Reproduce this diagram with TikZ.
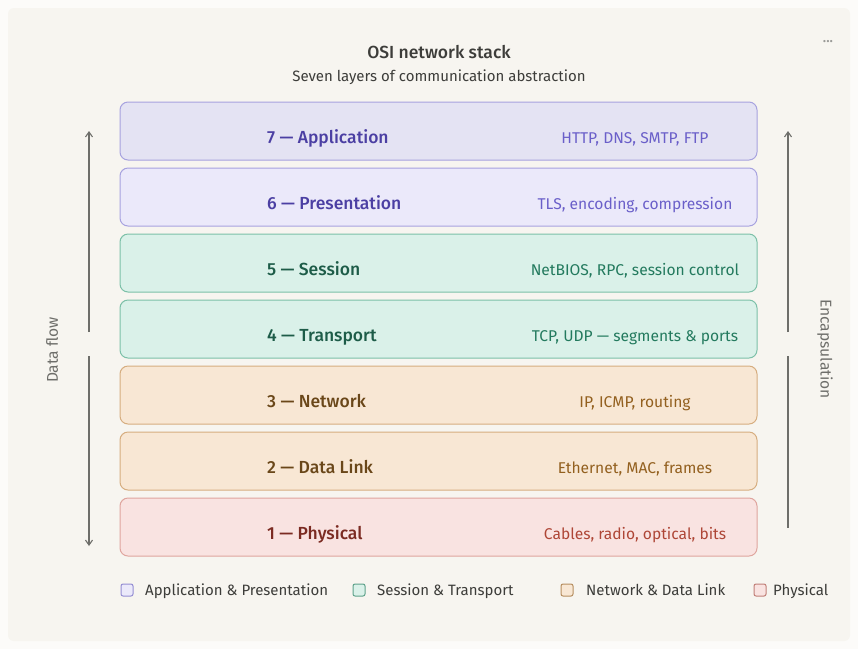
\documentclass[tikz,border=0pt]{standalone}
\usepackage{fontspec}
\setmainfont{Fira Sans}[BoldFont={Fira Sans Medium}]
\usetikzlibrary{arrows.meta}

% colours of the four layer groups
\definecolor{paper}{HTML}{F7F5F0}
\definecolor{inkgray}{HTML}{3D3D3A}
\definecolor{linegray}{HTML}{6E6E6A}
\definecolor{appfill}{HTML}{E4E3F3}
\definecolor{presfill}{HTML}{EBE9FA}
\definecolor{appline}{HTML}{A7A2DF}
\definecolor{appdark}{HTML}{4B3FA3}
\definecolor{applight}{HTML}{6A5FC9}
\definecolor{sessfill}{HTML}{DAF1E9}
\definecolor{sessline}{HTML}{7CC0A8}
\definecolor{sessdark}{HTML}{1D5C48}
\definecolor{sesslight}{HTML}{237A5E}
\definecolor{netfill}{HTML}{F8E7D4}
\definecolor{netline}{HTML}{D6AD7F}
\definecolor{netdark}{HTML}{6A4719}
\definecolor{netlight}{HTML}{93601F}
\definecolor{physfill}{HTML}{F9E3E1}
\definecolor{physline}{HTML}{DFA59E}
\definecolor{physdark}{HTML}{7B2B22}
\definecolor{physlight}{HTML}{AE4636}

\tikzset{
  layer/.style={draw, line width=1pt, rounded corners=8pt, minimum width=637pt, minimum height=58pt, inner sep=0pt},
  layername/.style={anchor=base west, inner sep=0pt, font=\fontsize{17.5}{20}\selectfont\bfseries},
  layerinfo/.style={anchor=base, inner sep=0pt, font=\fontsize{15.6}{18}\selectfont},
  keybox/.style={draw, line width=1pt, rounded corners=2pt, minimum size=12pt, inner sep=0pt},
  keytext/.style={anchor=base west, inner sep=0pt, text=inkgray, font=\fontsize{15}{17}\selectfont},
  flow/.style={draw=linegray, line width=1.1pt},
  sidelabel/.style={text=linegray, font=\fontsize{15.6}{18}\selectfont}
}

\begin{document}
\begin{tikzpicture}[x=1pt, y=-1pt]
    % background
    \useasboundingbox (0,0) rectangle (858,649);
    \fill[white!60!paper] (0,0) rectangle (858,649);
    \fill[paper, rounded corners=6pt] (8,8) rectangle (850,641);

    % title
    \node[text=inkgray, font=\fontsize{17.5}{20}\selectfont\bfseries] (title) at (439,52) {OSI network stack};
    \node[text=inkgray, font=\fontsize{15}{17}\selectfont] (subtitle) at (439,77) {Seven layers of communication abstraction};
    \node[text=linegray!70, font=\fontsize{14}{16}\selectfont\bfseries] (menu) at (828,42) {...};

    % the seven layers
    \node[layer, fill=appfill, draw=appline] (l7) at (438.5,131) {};
    \node[layer, fill=presfill, draw=appline] (l6) at (438.5,197) {};
    \node[layer, fill=sessfill, draw=sessline] (l5) at (438.5,263) {};
    \node[layer, fill=sessfill, draw=sessline] (l4) at (438.5,329) {};
    \node[layer, fill=netfill, draw=netline] (l3) at (438.5,395) {};
    \node[layer, fill=netfill, draw=netline] (l2) at (438.5,461) {};
    \node[layer, fill=physfill, draw=physline] (l1) at (438.5,527) {};

    % layer names
    \node[layername, text=appdark] (n7) at (267,143) {7 — Application};
    \node[layername, text=appdark] (n6) at (267,209) {6 — Presentation};
    \node[layername, text=sessdark] (n5) at (267,275) {5 — Session};
    \node[layername, text=sessdark] (n4) at (267,341) {4 — Transport};
    \node[layername, text=netdark] (n3) at (267,407) {3 — Network};
    \node[layername, text=netdark] (n2) at (267,473) {2 — Data Link};
    \node[layername, text=physdark] (n1) at (267,539) {1 — Physical};

    % protocols and examples
    \node[layerinfo, text=applight] (p7) at (635,143) {HTTP, DNS, SMTP, FTP};
    \node[layerinfo, text=applight] (p6) at (635,209) {TLS, encoding, compression};
    \node[layerinfo, text=sesslight] (p5) at (635,275) {NetBIOS, RPC, session control};
    \node[layerinfo, text=sesslight] (p4) at (635,341) {TCP, UDP — segments \& ports};
    \node[layerinfo, text=netlight] (p3) at (635,407) {IP, ICMP, routing};
    \node[layerinfo, text=netlight] (p2) at (635,473) {Ethernet, MAC, frames};
    \node[layerinfo, text=physlight] (p1) at (635,539) {Cables, radio, optical, bits};

    % data flow arrows on the left
    \coordinate (dftop) at (89,131);
    \coordinate (dfup) at (89,332);
    \coordinate (dfdown) at (89,356);
    \coordinate (dfbot) at (89,546);
    \draw[flow, -{Straight Barb[length=5pt, width=7pt]}] (dfup) -- (dftop);
    \draw[flow, -{Straight Barb[length=5pt, width=7pt]}] (dfdown) -- (dfbot);
    \node[sidelabel, rotate=90] (dflabel) at (52,350) {Data flow};

    % encapsulation arrow on the right
    \coordinate (entop) at (788,131);
    \coordinate (enup) at (788,332);
    \coordinate (endown) at (788,356);
    \coordinate (enbot) at (788,528);
    \draw[flow, -{Straight Barb[length=5pt, width=7pt]}] (enup) -- (entop);
    \draw[flow] (endown) -- (enbot);
    \node[sidelabel, rotate=-90] (enlabel) at (825,349) {Encapsulation};

    % legend
    \node[keybox, fill=presfill, draw=appline!80!appdark] (k1) at (127,590) {};
    \node[keytext] (t1) at (145,595) {Application \& Presentation};
    \node[keybox, fill=sessfill, draw=sessline!70!sessdark] (k2) at (359,590) {};
    \node[keytext] (t2) at (377,595) {Session \& Transport};
    \node[keybox, fill=netfill, draw=netline!70!netdark] (k3) at (567,590) {};
    \node[keytext] (t3) at (586,595) {Network \& Data Link};
    \node[keybox, fill=physfill, draw=physline!70!physdark] (k4) at (760,590) {};
    \node[keytext] (t4) at (773,595) {Physical};
\end{tikzpicture}
\end{document}
